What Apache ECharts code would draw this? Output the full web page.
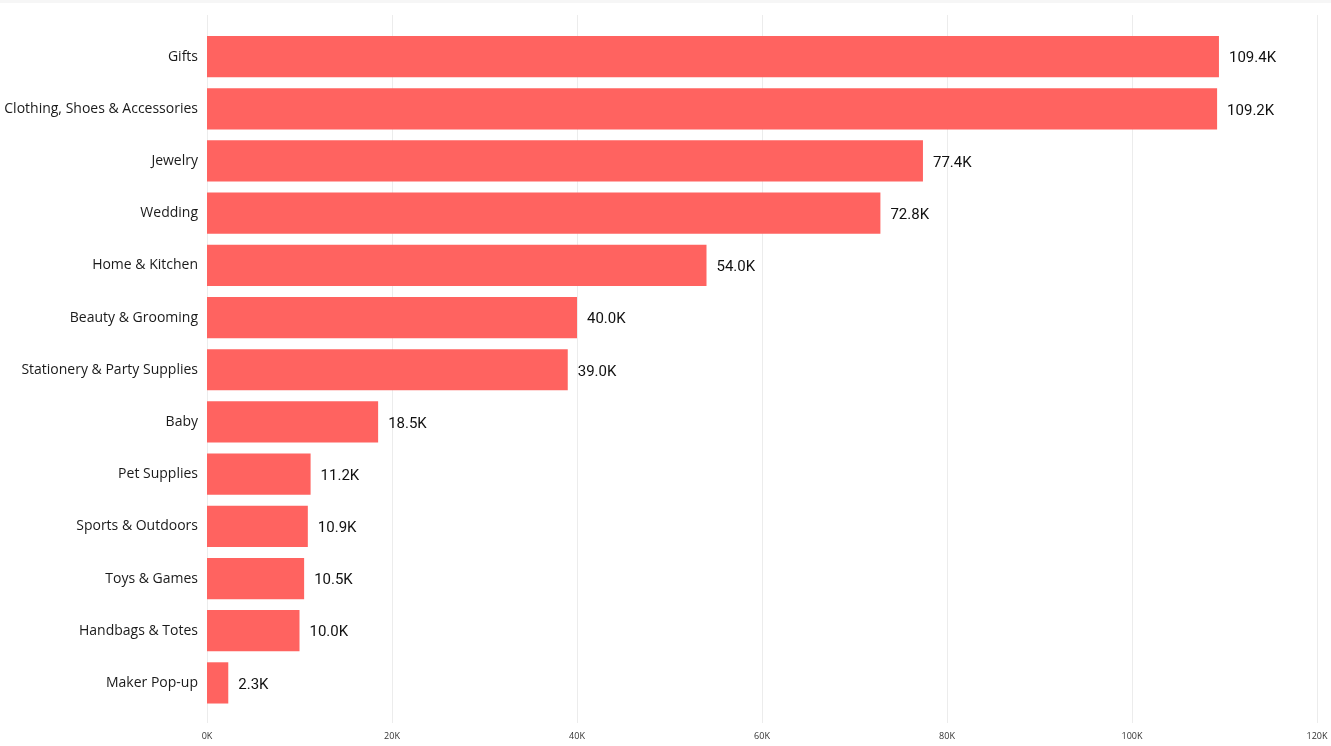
<!DOCTYPE html>
<html>
<head>
<meta charset="utf-8">
<script src="https://cdn.jsdelivr.net/npm/echarts@6/dist/echarts.min.js"></script>
<style>
html,body{margin:0;padding:0;background:#fff;}
#chart{width:1331px;height:746px;}
</style>
</head>
<body>
<div id="chart"></div>
<script>
const categories = ["Gifts","Clothing, Shoes & Accessories","Jewelry","Wedding","Home & Kitchen","Beauty & Grooming","Stationery & Party Supplies","Baby","Pet Supplies","Sports & Outdoors","Toys & Games","Handbags & Totes","Maker Pop-up"];
const values = [109400,109200,77400,72800,54000,40000,39000,18500,11200,10900,10500,10000,2300];
const xTicks = [0,20000,40000,60000,80000,100000,120000];

const chart = echarts.init(document.getElementById('chart'));
chart.setOption({
  animation:false,
  graphic:[{type:'rect', shape:{x:0,y:0,width:1331,height:3}, style:{fill:'#f6f6f6'}, silent:true}],
  grid:[
    {left:207, right:14, top:15, height:708},
    {left:207, right:14, top:30.5, height:678.5}
  ],
  xAxis:[
    {gridIndex:0, type:'value', min:xTicks[0], max:xTicks[xTicks.length-1], interval:xTicks[1]-xTicks[0],
     axisLine:{show:false}, axisTick:{show:false},
     splitLine:{show:true, lineStyle:{color:'#ececec', width:1}},
     axisLabel:{margin:9, fontSize:9, color:'#333', fontFamily:'Open Sans',
       formatter:v=>(v/1000)+'K'}},
    {gridIndex:1, type:'value', min:xTicks[0], max:xTicks[xTicks.length-1], show:false, splitLine:{show:false}}
  ],
  yAxis:[
    {gridIndex:0, type:'category', data:[''], show:false},
    {gridIndex:1, type:'category', data:categories, inverse:true,
     axisLine:{show:false}, axisTick:{show:false},
     axisLabel:{margin:9, fontSize:14, color:'#1a1a1a', fontFamily:'Open Sans', lineHeight:16, padding:[3,0,0,0]}}
  ],
  series:[{
    type:'bar', xAxisIndex:1, yAxisIndex:1, data:values,
    barCategoryGap:'21%',
    itemStyle:{color:'#FF6360'},
    label:{show:true, position:'right', distance:10, fontSize:15, color:'#111', fontFamily:'Roboto',
      offset:[0,2],
      formatter:p=>(p.value/1000).toFixed(1)+'K'}
  }]
});
</script>
</body>
</html>
